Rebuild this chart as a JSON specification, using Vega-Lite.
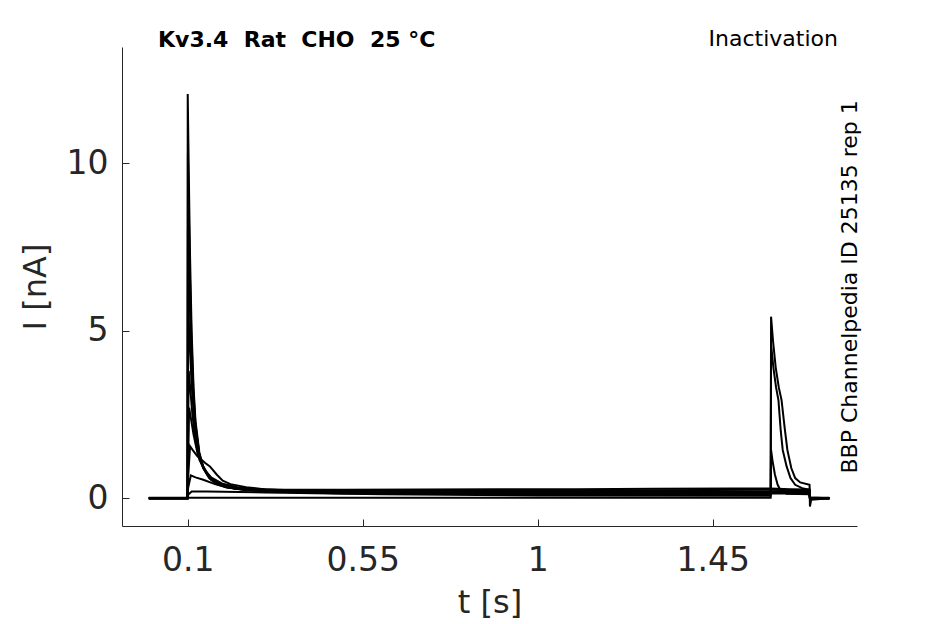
{
  "$schema": "https://vega.github.io/schema/vega-lite/v6.json",
  "width": 735,
  "height": 479,
  "autosize": "none",
  "padding": {"left": 122, "top": 47, "right": 88, "bottom": 98},
  "background": "white",
  "config": {"view": {"stroke": null}, "font": "DejaVu Sans"},
  "datasets": {
    "traces": [
      {"trace": "a", "t": 0, "I": 0}, {"trace": "a", "t": 0.0995, "I": 0}, {"trace": "a", "t": 0.1, "I": 12.07},
      {"trace": "a", "t": 0.103, "I": 9.5}, {"trace": "a", "t": 0.106, "I": 7.2}, {"trace": "a", "t": 0.11, "I": 5.0},
      {"trace": "a", "t": 0.115, "I": 3.3}, {"trace": "a", "t": 0.12, "I": 2.3}, {"trace": "a", "t": 0.13, "I": 1.35},
      {"trace": "a", "t": 0.14, "I": 0.95}, {"trace": "a", "t": 0.155, "I": 0.65}, {"trace": "a", "t": 0.175, "I": 0.45},
      {"trace": "a", "t": 0.2, "I": 0.35}, {"trace": "a", "t": 0.25, "I": 0.28}, {"trace": "a", "t": 0.35, "I": 0.25},
      {"trace": "a", "t": 0.5, "I": 0.25}, {"trace": "a", "t": 0.7, "I": 0.26}, {"trace": "a", "t": 0.9, "I": 0.27},
      {"trace": "a", "t": 1.1, "I": 0.27}, {"trace": "a", "t": 1.3, "I": 0.28}, {"trace": "a", "t": 1.5, "I": 0.29},
      {"trace": "a", "t": 1.599, "I": 0.29}, {"trace": "a", "t": 1.65, "I": 0.27}, {"trace": "a", "t": 1.699, "I": 0.26},
      {"trace": "a", "t": 1.7, "I": 0.02}, {"trace": "a", "t": 1.75, "I": 0.0},

      {"trace": "b", "t": 0, "I": 0.01}, {"trace": "b", "t": 0.0995, "I": 0.01}, {"trace": "b", "t": 0.1005, "I": 10.3},
      {"trace": "b", "t": 0.103, "I": 8.4}, {"trace": "b", "t": 0.106, "I": 6.5}, {"trace": "b", "t": 0.11, "I": 4.6},
      {"trace": "b", "t": 0.115, "I": 3.1}, {"trace": "b", "t": 0.12, "I": 2.2}, {"trace": "b", "t": 0.13, "I": 1.3},
      {"trace": "b", "t": 0.14, "I": 0.9}, {"trace": "b", "t": 0.155, "I": 0.6}, {"trace": "b", "t": 0.175, "I": 0.42},
      {"trace": "b", "t": 0.2, "I": 0.32}, {"trace": "b", "t": 0.25, "I": 0.25}, {"trace": "b", "t": 0.4, "I": 0.22},
      {"trace": "b", "t": 0.7, "I": 0.22}, {"trace": "b", "t": 1.0, "I": 0.23}, {"trace": "b", "t": 1.3, "I": 0.24},
      {"trace": "b", "t": 1.599, "I": 0.25}, {"trace": "b", "t": 1.65, "I": 0.24}, {"trace": "b", "t": 1.699, "I": 0.23},
      {"trace": "b", "t": 1.7, "I": 0.01}, {"trace": "b", "t": 1.75, "I": 0.01},

      {"trace": "c", "t": 0, "I": 0}, {"trace": "c", "t": 0.0995, "I": 0}, {"trace": "c", "t": 0.1005, "I": 8.0},
      {"trace": "c", "t": 0.104, "I": 6.3}, {"trace": "c", "t": 0.108, "I": 4.7}, {"trace": "c", "t": 0.113, "I": 3.3},
      {"trace": "c", "t": 0.12, "I": 2.1}, {"trace": "c", "t": 0.13, "I": 1.3}, {"trace": "c", "t": 0.14, "I": 0.9},
      {"trace": "c", "t": 0.16, "I": 0.55}, {"trace": "c", "t": 0.18, "I": 0.4}, {"trace": "c", "t": 0.22, "I": 0.28},
      {"trace": "c", "t": 0.3, "I": 0.2}, {"trace": "c", "t": 0.6, "I": 0.18}, {"trace": "c", "t": 1.0, "I": 0.19},
      {"trace": "c", "t": 1.4, "I": 0.2}, {"trace": "c", "t": 1.699, "I": 0.2}, {"trace": "c", "t": 1.7, "I": 0.0},
      {"trace": "c", "t": 1.75, "I": 0.0},

      {"trace": "d", "t": 0, "I": 0}, {"trace": "d", "t": 0.0995, "I": 0}, {"trace": "d", "t": 0.101, "I": 5.8},
      {"trace": "d", "t": 0.105, "I": 4.6}, {"trace": "d", "t": 0.11, "I": 3.4}, {"trace": "d", "t": 0.117, "I": 2.3},
      {"trace": "d", "t": 0.125, "I": 1.55}, {"trace": "d", "t": 0.135, "I": 1.05}, {"trace": "d", "t": 0.15, "I": 0.7},
      {"trace": "d", "t": 0.17, "I": 0.48}, {"trace": "d", "t": 0.2, "I": 0.33}, {"trace": "d", "t": 0.25, "I": 0.24},
      {"trace": "d", "t": 0.4, "I": 0.18}, {"trace": "d", "t": 0.8, "I": 0.17}, {"trace": "d", "t": 1.2, "I": 0.18},
      {"trace": "d", "t": 1.699, "I": 0.18}, {"trace": "d", "t": 1.7, "I": 0.0}, {"trace": "d", "t": 1.75, "I": 0.0},

      {"trace": "e", "t": 0, "I": 0}, {"trace": "e", "t": 0.0995, "I": 0}, {"trace": "e", "t": 0.1025, "I": 3.8},
      {"trace": "e", "t": 0.107, "I": 3.2}, {"trace": "e", "t": 0.112, "I": 2.5}, {"trace": "e", "t": 0.12, "I": 1.7},
      {"trace": "e", "t": 0.13, "I": 1.15}, {"trace": "e", "t": 0.145, "I": 0.8}, {"trace": "e", "t": 0.165, "I": 0.55},
      {"trace": "e", "t": 0.19, "I": 0.4}, {"trace": "e", "t": 0.23, "I": 0.3}, {"trace": "e", "t": 0.3, "I": 0.22},
      {"trace": "e", "t": 0.6, "I": 0.16}, {"trace": "e", "t": 1.0, "I": 0.16}, {"trace": "e", "t": 1.4, "I": 0.17},
      {"trace": "e", "t": 1.699, "I": 0.17}, {"trace": "e", "t": 1.7, "I": 0.0}, {"trace": "e", "t": 1.75, "I": 0.0},

      {"trace": "f", "t": 0, "I": 0}, {"trace": "f", "t": 0.0995, "I": 0}, {"trace": "f", "t": 0.1035, "I": 2.7},
      {"trace": "f", "t": 0.108, "I": 2.4}, {"trace": "f", "t": 0.115, "I": 1.9}, {"trace": "f", "t": 0.125, "I": 1.35},
      {"trace": "f", "t": 0.14, "I": 0.9}, {"trace": "f", "t": 0.16, "I": 0.62}, {"trace": "f", "t": 0.19, "I": 0.43},
      {"trace": "f", "t": 0.23, "I": 0.32}, {"trace": "f", "t": 0.3, "I": 0.24}, {"trace": "f", "t": 0.5, "I": 0.17},
      {"trace": "f", "t": 1.0, "I": 0.15}, {"trace": "f", "t": 1.699, "I": 0.16}, {"trace": "f", "t": 1.7, "I": 0.0},
      {"trace": "f", "t": 1.75, "I": 0.0},

      {"trace": "g", "t": 0, "I": 0}, {"trace": "g", "t": 0.0995, "I": 0}, {"trace": "g", "t": 0.101, "I": 0.6},
      {"trace": "g", "t": 0.106, "I": 1.55}, {"trace": "g", "t": 0.112, "I": 1.45}, {"trace": "g", "t": 0.125, "I": 1.25},
      {"trace": "g", "t": 0.145, "I": 1.05}, {"trace": "g", "t": 0.157, "I": 0.95}, {"trace": "g", "t": 0.175, "I": 0.7},
      {"trace": "g", "t": 0.19, "I": 0.52}, {"trace": "g", "t": 0.21, "I": 0.42}, {"trace": "g", "t": 0.25, "I": 0.33},
      {"trace": "g", "t": 0.3, "I": 0.26}, {"trace": "g", "t": 0.5, "I": 0.16}, {"trace": "g", "t": 1.0, "I": 0.13},
      {"trace": "g", "t": 1.699, "I": 0.14}, {"trace": "g", "t": 1.7, "I": 0.0}, {"trace": "g", "t": 1.75, "I": 0.0},

      {"trace": "h", "t": 0, "I": 0}, {"trace": "h", "t": 0.0995, "I": 0}, {"trace": "h", "t": 0.101, "I": 0.3},
      {"trace": "h", "t": 0.108, "I": 0.68}, {"trace": "h", "t": 0.12, "I": 0.62}, {"trace": "h", "t": 0.14, "I": 0.55},
      {"trace": "h", "t": 0.17, "I": 0.42}, {"trace": "h", "t": 0.2, "I": 0.33}, {"trace": "h", "t": 0.25, "I": 0.26},
      {"trace": "h", "t": 0.3, "I": 0.2}, {"trace": "h", "t": 0.5, "I": 0.14}, {"trace": "h", "t": 1.0, "I": 0.12},
      {"trace": "h", "t": 1.599, "I": 0.12}, {"trace": "h", "t": 1.6, "I": 1.44}, {"trace": "h", "t": 1.604, "I": 1.1},
      {"trace": "h", "t": 1.61, "I": 0.7}, {"trace": "h", "t": 1.617, "I": 0.4}, {"trace": "h", "t": 1.625, "I": 0.22},
      {"trace": "h", "t": 1.64, "I": 0.13}, {"trace": "h", "t": 1.699, "I": 0.12}, {"trace": "h", "t": 1.7, "I": 0.0},
      {"trace": "h", "t": 1.75, "I": 0.0},

      {"trace": "i", "t": 0, "I": 0}, {"trace": "i", "t": 0.0995, "I": 0}, {"trace": "i", "t": 0.101, "I": 0.1},
      {"trace": "i", "t": 0.11, "I": 0.2}, {"trace": "i", "t": 0.15, "I": 0.2}, {"trace": "i", "t": 0.3, "I": 0.17},
      {"trace": "i", "t": 0.6, "I": 0.12}, {"trace": "i", "t": 1.0, "I": 0.08}, {"trace": "i", "t": 1.599, "I": 0.07},
      {"trace": "i", "t": 1.6, "I": 4.6}, {"trace": "i", "t": 1.606, "I": 3.9}, {"trace": "i", "t": 1.613, "I": 3.3},
      {"trace": "i", "t": 1.619, "I": 2.93}, {"trace": "i", "t": 1.625, "I": 2.0}, {"trace": "i", "t": 1.63, "I": 1.44},
      {"trace": "i", "t": 1.64, "I": 0.95}, {"trace": "i", "t": 1.65, "I": 0.6}, {"trace": "i", "t": 1.662, "I": 0.4},
      {"trace": "i", "t": 1.68, "I": 0.3}, {"trace": "i", "t": 1.699, "I": 0.25}, {"trace": "i", "t": 1.7, "I": 0.0},
      {"trace": "i", "t": 1.75, "I": 0.0},

      {"trace": "j", "t": 0, "I": 0}, {"trace": "j", "t": 0.0995, "I": 0}, {"trace": "j", "t": 0.1, "I": 0.01},
      {"trace": "j", "t": 0.5, "I": 0.01}, {"trace": "j", "t": 1.0, "I": 0.01}, {"trace": "j", "t": 1.599, "I": 0.01},
      {"trace": "j", "t": 1.6, "I": 5.42}, {"trace": "j", "t": 1.605, "I": 4.7}, {"trace": "j", "t": 1.612, "I": 3.9},
      {"trace": "j", "t": 1.62, "I": 3.3}, {"trace": "j", "t": 1.627, "I": 2.93}, {"trace": "j", "t": 1.635, "I": 2.1},
      {"trace": "j", "t": 1.642, "I": 1.44}, {"trace": "j", "t": 1.652, "I": 0.9}, {"trace": "j", "t": 1.662, "I": 0.6},
      {"trace": "j", "t": 1.675, "I": 0.47}, {"trace": "j", "t": 1.699, "I": 0.4}, {"trace": "j", "t": 1.7, "I": -0.25},
      {"trace": "j", "t": 1.703, "I": -0.05}, {"trace": "j", "t": 1.75, "I": 0.0}
    ]
  },
  "layer": [
    {
      "data": {"name": "traces"},
      "mark": {"type": "line", "stroke": "#000000", "strokeWidth": 2, "clip": true},
      "encoding": {
        "x": {
          "field": "t",
          "type": "quantitative",
          "scale": {"domain": [-0.069, 1.821], "nice": false, "zero": false},
          "axis": {
            "title": "t [s]",
            "values": [0.1, 0.55, 1, 1.45],
            "format": ".3~g",
            "grid": false,
            "tickSize": -7,
            "labelPadding": 25,
            "titlePadding": 10,
            "labelFontSize": 33,
            "titleFontSize": 32,
            "titleFontWeight": "normal",
            "labelFont": "DejaVu Sans",
            "titleFont": "DejaVu Sans",
            "domainColor": "#262626",
            "tickColor": "#262626",
            "labelColor": "#262626",
            "titleColor": "#262626",
            "labelFlush": false
          }
        },
        "y": {
          "field": "I",
          "type": "quantitative",
          "scale": {"domain": [-0.83, 13.47], "nice": false, "zero": false},
          "axis": {
            "title": "I [nA]",
            "values": [0, 5, 10],
            "grid": false,
            "tickSize": -7,
            "labelPadding": 21,
            "titlePadding": 14,
            "labelFontSize": 33,
            "titleFontSize": 32,
            "titleFontWeight": "normal",
            "labelFont": "DejaVu Sans",
            "titleFont": "DejaVu Sans",
            "domainColor": "#262626",
            "tickColor": "#262626",
            "labelColor": "#262626",
            "titleColor": "#262626"
          }
        },
        "detail": {"field": "trace", "type": "nominal"}
      }
    },
    {
      "data": {"values": [{}]},
      "mark": {"type": "text", "text": "Kv3.4\u00a0\u00a0Rat\u00a0\u00a0CHO\u00a0\u00a025\u00a0°C", "align": "left", "baseline": "alphabetic", "fontSize": 22, "fontWeight": "bold", "font": "DejaVu Sans", "color": "#000000"},
      "encoding": {
        "x": {"datum": 0.0236, "type": "quantitative"},
        "y": {"datum": 13.47, "type": "quantitative"}
      }
    },
    {
      "data": {"values": [{}]},
      "mark": {"type": "text", "text": "Inactivation", "align": "right", "baseline": "alphabetic", "fontSize": 22, "font": "DejaVu Sans", "color": "#000000"},
      "encoding": {
        "x": {"datum": 1.772, "type": "quantitative"},
        "y": {"datum": 13.5, "type": "quantitative"}
      }
    },
    {
      "data": {"values": [{}]},
      "mark": {"type": "text", "text": "BBP Channelpedia ID 25135 rep 1", "align": "center", "baseline": "middle", "angle": 270, "fontSize": 22, "font": "DejaVu Sans", "color": "#000000"},
      "encoding": {
        "x": {"datum": 1.802, "type": "quantitative"},
        "y": {"datum": 6.31, "type": "quantitative"}
      }
    }
  ]
}
